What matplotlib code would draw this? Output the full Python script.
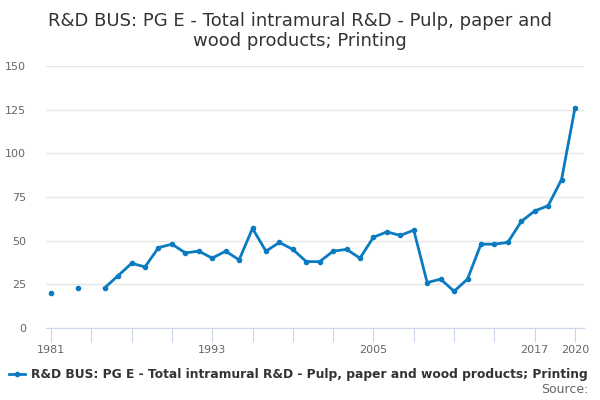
import numpy as np
import matplotlib.pyplot as plt
from matplotlib.lines import Line2D

years = np.arange(1981, 2021)
values = [20, np.nan, 23, np.nan, 23, 30, 37, 35, 46, 48,
          43, 44, 40, 44, 39, 57, 44, 49, 45, 38,
          38, 44, 45, 40, 52, 55, 53, 56, 26, 28,
          21, 28, 48, 48, 49, 61, 67, 70, 85, 126]
tick_years = np.arange(1981, 2021, 3)
labelled_years = [1981, 1993, 2005, 2017, 2020]
y_ticks = [0, 25, 50, 75, 100, 125, 150]

title = "R&D BUS: PG E - Total intramural R&D - Pulp, paper and\nwood products; Printing"
series_name = "R&D BUS: PG E - Total intramural R&D - Pulp, paper and wood products; Printing"

line_color = "#0a7bc1"
text_color = "#666666"
axis_color = "#ccd6eb"

fig = plt.figure(figsize=(6, 4), dpi=100)
ax = fig.add_axes([0.076, 0.18, 0.898, 0.655])

ax.plot(years, values, color=line_color, lw=2, marker="o", ms=3, zorder=3)

ax.set_xlim(1980.6, 2020.7)
ax.set_ylim(0, 150)
ax.set_yticks(y_ticks)
ax.yaxis.grid(True, color="#e6e6e6", lw=1)
ax.set_axisbelow(True)

# ticks every 3 years, labels only on a few
ax.set_xticks(tick_years)
ax.set_xticklabels([str(y) if y in labelled_years else "" for y in tick_years])
ax.tick_params(axis="x", length=10, color=axis_color, labelcolor=text_color,
               labelsize=8, pad=2)
ax.tick_params(axis="y", length=0, labelcolor=text_color, labelsize=8, pad=14)

for side in ["top", "right", "left"]:
    ax.spines[side].set_visible(False)
ax.spines["bottom"].set_color(axis_color)

fig.text(0.5, 0.875, title, ha="center", va="bottom", fontsize=13, color="#333333",
         linespacing=1.15)

handle = Line2D([0], [0], color=line_color, lw=2, marker="o", ms=3)
fig.legend([handle], [series_name], loc="lower left", bbox_to_anchor=(-0.003, 0.02),
           frameon=False, handlelength=1.3, handletextpad=0.5,
           prop={"size": 8.8, "weight": "bold"}, labelcolor="#333333")
fig.text(0.98, 0.01, "Source:", ha="right", va="bottom", fontsize=9, color=text_color)

fig.savefig("out.png", dpi=100)
